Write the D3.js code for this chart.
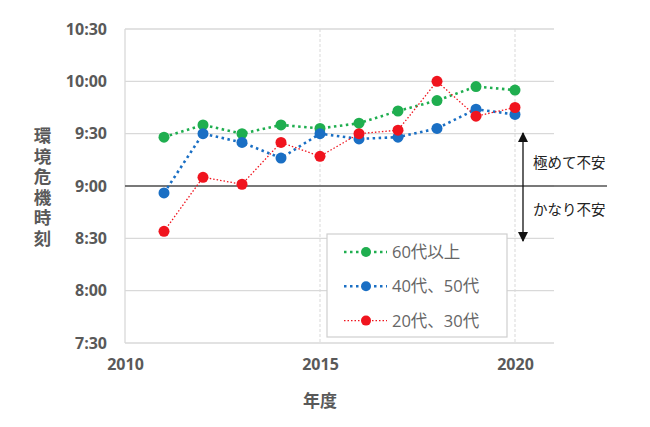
<!DOCTYPE html>
<html><head><meta charset="utf-8">
<script src="https://cdn.jsdelivr.net/npm/d3@7"></script>
<style>body{margin:0;background:#fff}svg{display:block}</style>
</head><body>
<script>
const years = [2011,2012,2013,2014,2015,2016,2017,2018,2019,2020];
const seriesNames = ["60代以上","40代、50代","20代、30代"];
const seriesColors = ["#1fae4f","#1a6fc4","#f0141e"];
// minutes since midnight
const over60 = [568,575,570,575,573,576,583,589,597,595];
const age4050 = [536,570,565,556,570,567,568,573,584,581];
const age2030 = [514,545,541,565,557,570,572,600,580,585];
const yTicks = [450,480,510,540,570,600,630];
const xTicks = [2010,2015,2020];

const W=650,H=427;
const svg=d3.select("body").append("svg").attr("width",W).attr("height",H);
const x=d3.scaleLinear().domain([2010,2021]).range([125,554]);
const y=d3.scaleLinear().domain([450,630]).range([343,29]);
const fmt=v=>Math.floor(v/60)+":"+String(v%60).padStart(2,"0");
const font="'Open Sans','Noto Sans CJK JP',sans-serif";

// horizontal grid
svg.append("g").selectAll("line").data(yTicks).join("line")
 .attr("x1",125).attr("x2",554).attr("y1",d=>y(d)).attr("y2",d=>y(d))
 .attr("stroke","#d9d9d9").attr("stroke-width",1.3);
// vertical grid
svg.append("g").selectAll("line").data([2015,2020]).join("line")
 .attr("x1",d=>x(d)).attr("x2",d=>x(d)).attr("y1",29).attr("y2",343)
 .attr("stroke","#d9d9d9").attr("stroke-width",1).attr("stroke-dasharray","3,2");
// left axis line
svg.append("line").attr("x1",125).attr("x2",125).attr("y1",29).attr("y2",343).attr("stroke","#d9d9d9").attr("stroke-width",1.3);

// axes
const yAxis=d3.axisLeft(y).tickValues(yTicks).tickFormat(fmt).tickSize(0).tickPadding(18);
const gy=svg.append("g").attr("transform","translate(125,0)").call(yAxis);
gy.select(".domain").remove();
gy.selectAll("text").attr("font-family",font).attr("font-weight","bold").attr("font-size",16).attr("fill","#595959");
const xAxis=d3.axisBottom(x).tickValues(xTicks).tickFormat(d3.format("d")).tickSize(0).tickPadding(16);
const gx=svg.append("g").attr("transform","translate(0,343)").call(xAxis);
gx.select(".domain").remove();
gx.selectAll("text").attr("font-family",font).attr("font-weight","bold").attr("font-size",16).attr("fill","#595959");

svg.append("text").attr("x",320).attr("y",407).attr("text-anchor","middle")
 .attr("font-family",font).attr("font-weight","bold").attr("font-size",17).attr("fill","#595959").text("年度");
svg.append("text").attr("x",42).attr("y",127)
 .style("writing-mode","vertical-rl").style("letter-spacing","3px")
 .attr("font-family",font).attr("font-weight","bold").attr("font-size",17.5).attr("fill","#595959").text("環境危機時刻");

// 9:00 threshold line
svg.append("line").attr("x1",125).attr("x2",607).attr("y1",y(540)).attr("y2",y(540)).attr("stroke","#555").attr("stroke-width",1.3);

// arrow
const defs=svg.append("defs");
defs.append("marker").attr("id","ah").attr("viewBox","0 0 10 10").attr("refX",9).attr("refY",5)
 .attr("markerWidth",11).attr("markerHeight",10).attr("orient","auto-start-reverse").attr("markerUnits","userSpaceOnUse")
 .append("path").attr("d","M0,0L10,5L0,10Z").attr("fill","#111");
svg.append("line").attr("x1",523).attr("x2",523).attr("y1",133).attr("y2",241)
 .attr("stroke","#111").attr("stroke-width",1.3).attr("marker-start","url(#ah)").attr("marker-end","url(#ah)");
svg.append("text").attr("x",533).attr("y",168).attr("font-family",font).attr("font-size",14.5).attr("fill","#222").text("極めて不安");
svg.append("text").attr("x",533).attr("y",215).attr("font-family",font).attr("font-size",14.5).attr("fill","#222").text("かなり不安");

// series
const data=[over60,age4050,age2030];
const widths=[2.6,2.6,1.3];
const dashes=["2.5,3.5","2.5,3.5","1.5,2"];
const line=d3.line().x((d,i)=>x(years[i])).y(d=>y(d));
data.forEach((vals,k)=>{
  svg.append("path").datum(vals).attr("d",line).attr("fill","none").attr("stroke",seriesColors[k])
   .attr("stroke-width",widths[k]).attr("stroke-dasharray",dashes[k]);
});
data.forEach((vals,k)=>{
  svg.append("g").selectAll("circle").data(vals).join("circle")
   .attr("cx",(d,i)=>x(years[i])).attr("cy",d=>y(d)).attr("r",5.5).attr("fill",seriesColors[k]);
});

// legend
const lg=svg.append("g");
lg.append("rect").attr("x",327).attr("y",234).attr("width",180).attr("height",103).attr("fill","#fff").attr("stroke","#cfcfcf").attr("stroke-width",1.2);
seriesNames.forEach((n,k)=>{
  const yy=252+k*34.3;
  lg.append("line").attr("x1",344).attr("x2",387).attr("y1",yy).attr("y2",yy).attr("stroke",seriesColors[k])
   .attr("stroke-width",widths[k]).attr("stroke-dasharray",dashes[k]);
  lg.append("circle").attr("cx",366).attr("cy",yy).attr("r",5).attr("fill",seriesColors[k]);
  lg.append("text").attr("x",392).attr("y",yy+6).attr("font-family",font).attr("font-size",16.5).attr("fill","#666").text(n);
});
</script>
</body></html>
